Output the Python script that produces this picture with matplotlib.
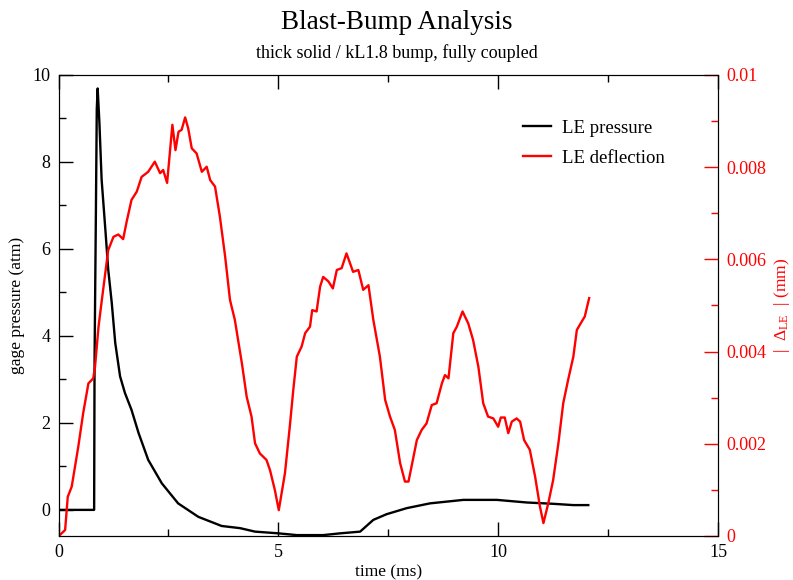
import matplotlib

matplotlib.use("Agg")
import matplotlib.pyplot as plt
from matplotlib.ticker import FormatStrFormatter, MultipleLocator

# LE gage pressure (atm) vs time (ms)
p_time = [0.0, 0.81, 0.82, 0.85, 0.87, 0.89, 0.93, 0.98, 1.07, 1.13, 1.21, 1.29, 1.40, 1.51,
          1.66, 1.82, 2.04, 2.35, 2.72, 3.18, 3.71, 4.13, 4.47, 5.01, 5.42, 6.02, 6.40, 6.86,
          7.16, 7.46, 7.92, 8.45, 9.21, 9.97, 10.65, 11.25, 11.71, 12.05]
p_val = [0.0, 0.0, 3.5, 6.83, 9.21, 9.69, 8.9, 7.6, 6.38, 5.53, 4.77, 3.84, 3.07, 2.69,
         2.30, 1.77, 1.15, 0.61, 0.15, -0.16, -0.37, -0.42, -0.50, -0.54, -0.58, -0.58, -0.54, -0.50,
         -0.23, -0.10, 0.04, 0.15, 0.23, 0.23, 0.17, 0.14, 0.11, 0.11]

# LE deflection magnitude (mm) vs time (ms)
d_time = [0.0, 0.03, 0.15, 0.21, 0.30, 0.45, 0.56, 0.68, 0.79, 0.83, 0.91, 0.98, 1.13, 1.25,
          1.36, 1.47, 1.55, 1.66, 1.78, 1.89, 2.04, 2.19, 2.31, 2.38, 2.47, 2.59, 2.66, 2.73,
          2.80, 2.88, 2.95, 3.03, 3.14, 3.26, 3.37, 3.45, 3.56, 3.67, 3.79, 3.90, 4.01, 4.17,
          4.28, 4.39, 4.47, 4.58, 4.73, 4.81, 4.92, 5.01, 5.15, 5.26, 5.34, 5.42, 5.53, 5.61,
          5.72, 5.77, 5.87, 5.95, 6.02, 6.14, 6.24, 6.33, 6.44, 6.55, 6.70, 6.82, 6.93, 7.05,
          7.16, 7.31, 7.43, 7.54, 7.65, 7.77, 7.88, 7.96, 8.06, 8.15, 8.26, 8.37, 8.49, 8.60,
          8.72, 8.79, 8.87, 8.98, 9.06, 9.19, 9.32, 9.43, 9.55, 9.66, 9.77, 9.89, 10.00, 10.06,
          10.15, 10.23, 10.31, 10.42, 10.50, 10.59, 10.72, 10.84, 10.95, 11.03, 11.14, 11.25,
          11.37, 11.48, 11.59, 11.71, 11.79, 11.90, 11.97, 12.07]
d_val = [0.0, 0.02, 0.13, 0.85, 1.07, 1.94, 2.66, 3.31, 3.42, 3.67, 4.54, 5.08, 6.20, 6.49,
         6.54, 6.44, 6.82, 7.29, 7.47, 7.79, 7.90, 8.12, 7.87, 7.94, 7.66, 8.92, 8.37, 8.77,
         8.81, 9.08, 8.84, 8.41, 8.30, 7.90, 8.01, 7.72, 7.58, 6.93, 6.06, 5.12, 4.69, 3.75,
         3.02, 2.59, 2.01, 1.79, 1.65, 1.43, 1.00, 0.56, 1.36, 2.37, 3.17, 3.89, 4.11, 4.40,
         4.54, 4.90, 4.87, 5.41, 5.62, 5.52, 5.37, 5.77, 5.81, 6.13, 5.73, 5.77, 5.34, 5.44,
         4.69, 3.89, 2.95, 2.59, 2.30, 1.58, 1.18, 1.18, 1.65, 2.08, 2.30, 2.44, 2.84, 2.88,
         3.31, 3.49, 3.42, 4.40, 4.54, 4.87, 4.61, 4.25, 3.67, 2.88, 2.59, 2.55, 2.37, 2.57,
         2.57, 2.23, 2.48, 2.55, 2.48, 2.08, 1.87, 1.29, 0.64, 0.28, 0.71, 1.21,
         2.01, 2.88, 3.38, 3.89, 4.47, 4.65, 4.76, 5.16]
d_val = [v * 1e-3 for v in d_val]

plt.rcParams["font.family"] = ["Liberation Serif", "DejaVu Serif"]
plt.rcParams["mathtext.fontset"] = "custom"
plt.rcParams["mathtext.rm"] = "Liberation Serif"
plt.rcParams["mathtext.it"] = "Liberation Serif:italic"

fig = plt.figure(figsize=(7.93, 5.80), dpi=100)
ax = fig.add_axes([0.0738, 0.0759, 0.8316, 0.7948])
ax2 = ax.twinx()

l1, = ax.plot(p_time, p_val, color="black", lw=1.7, label="LE pressure")
l2, = ax2.plot(d_time, d_val, color="red", lw=1.7, label="LE deflection")

ax.set_xlim(0, 15)
ax.set_ylim(-0.6, 10)
ax2.set_ylim(0, 0.01)

ax.xaxis.set_major_locator(MultipleLocator(5))
ax.xaxis.set_minor_locator(MultipleLocator(2.5))
ax.yaxis.set_major_locator(MultipleLocator(2))
ax.yaxis.set_minor_locator(MultipleLocator(1))
ax2.yaxis.set_major_locator(MultipleLocator(0.002))
ax2.yaxis.set_minor_locator(MultipleLocator(0.001))
ax2.yaxis.set_major_formatter(FormatStrFormatter("%g"))

ax.tick_params(which="both", direction="in", top=True, labelsize=13, pad=6)
ax.tick_params(which="major", length=10, width=1)
ax.tick_params(which="minor", length=5, width=1)
ax.tick_params(axis="y", right=False)
ax2.tick_params(which="both", direction="in", colors="red", labelsize=13, pad=6)
ax2.tick_params(which="major", length=10, width=1)
ax2.tick_params(which="minor", length=5, width=1)
ax2.spines["right"].set_color("black")

ax.set_xlabel("time (ms)", fontsize=12.5, labelpad=2)
ax.set_ylabel("gage pressure (atm)", fontsize=12.5, labelpad=5)
ax2.set_ylabel("|  $\\Delta_{\\mathrm{LE}}$  | (mm)", fontsize=12.5, color="red", labelpad=4)

fig.text(0.5, 0.962, "Blast-Bump Analysis", ha="center", va="center", fontsize=19.5)
fig.text(0.5, 0.908, "thick solid / kL1.8 bump, fully coupled", ha="center", va="center", fontsize=13)

ax.legend([l1, l2], ["LE pressure", "LE deflection"], loc="upper right",
          bbox_to_anchor=(0.945, 0.94), frameon=False, fontsize=13.5, handlelength=1.5,
          handletextpad=0.6, labelspacing=0.7)

fig.savefig("out.png", dpi=100)
